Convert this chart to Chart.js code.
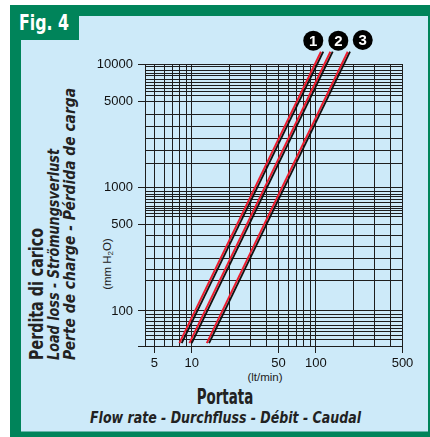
<!DOCTYPE html>
<html>
<head>
<meta charset="utf-8">
<script src="https://cdn.jsdelivr.net/npm/chart.js@4.4.1/dist/chart.umd.min.js"></script>
<style>
  html, body { margin: 0; padding: 0; background: #fff; }
  #wrap { position: relative; width: 430px; height: 437px; overflow: hidden; }
  #wrap svg, #wrap canvas { position: absolute; left: 0; top: 0; }
  .cond { font-family: "Liberation Sans Narrow", "DejaVu Sans Condensed", "Arial Narrow", "Liberation Sans", sans-serif; font-weight: bold; font-stretch: condensed; }
  .reg { font-family: "Liberation Sans", Arial, sans-serif; }
</style>
</head>
<body>
<div id="wrap">
  <svg width="430" height="437">
    <rect x="10" y="5" width="420" height="432" fill="#00845a"/>
    <rect x="21" y="16" width="407" height="415.5" fill="#cdeaf9"/>
    <rect x="10" y="5" width="69" height="35" fill="#00845a"/>
    <text class="cond" x="19" y="29.5" font-size="21" fill="#fff" textLength="50" lengthAdjust="spacingAndGlyphs">Fig. 4</text>

    <!-- y axis titles -->
    <text class="cond" transform="translate(43,360) rotate(-90)" font-size="20" fill="#222" textLength="132" lengthAdjust="spacingAndGlyphs">Perdita di carico</text>
    <text class="cond" transform="translate(58.5,360) rotate(-90)" font-size="16" font-style="italic" fill="#222" textLength="211" lengthAdjust="spacingAndGlyphs">Load loss - Strömungsverlust</text>
    <text class="cond" transform="translate(75,360) rotate(-90)" font-size="16" font-style="italic" fill="#222" textLength="272" lengthAdjust="spacingAndGlyphs">Perte de charge - Pérdida de carga</text>
    <text class="reg" transform="translate(110.5,264) rotate(-90)" font-size="11.5" fill="#222" text-anchor="middle">(mm H<tspan font-size="8" dy="2">2</tspan><tspan dy="-2">O)</tspan></text>

    <!-- x axis titles -->
    <text class="reg" x="265" y="380.5" font-size="11.5" fill="#222" text-anchor="middle">(lt/min)</text>
    <text class="cond" x="196.7" y="404" font-size="21" fill="#222" textLength="56.6" lengthAdjust="spacingAndGlyphs">Portata</text>
    <text class="cond" x="90" y="423" font-size="16" font-style="italic" fill="#222" textLength="271" lengthAdjust="spacingAndGlyphs">Flow rate - Durchfluss - Débit - Caudal</text>
  </svg>
  <canvas id="lossChart" width="430" height="437"></canvas>
</div>

<script>
// flow axis (lt/min)
const flowMin = 4.2;
const flowMax = 500;
const flowTicks = [5, 6, 7, 8, 9, 10, 20, 30, 40, 50, 60, 70, 80, 90, 100, 200, 300, 400, 500];
const flowLabels = [5, 10, 50, 100, 500];

// loss axis (mm H2O)
const lossMin = 52;
const lossMax = 10000;
const lossTicks = [52, 59, 63, 68, 72, 76, 82, 88, 93, 100, 175, 215, 265, 330, 410, 500,
  580, 615, 645, 675, 705, 750, 800, 840, 880, 925, 1000, 1550, 2000, 2500, 3100, 3900,
  5000, 5600, 6000, 6300, 6700, 7100, 7500, 8000, 8400, 8900, 9500, 10000];
const lossLabels = [100, 500, 1000, 5000, 10000];

// the three curves, read at the bottom and top ends
const curveNames = ["1", "2", "3"];
const curve1Flow = [8.3, 114.9];
const curve1Loss = [54.8, 12580];
const curve2Flow = [10.0, 136.9];
const curve2Loss = [54.8, 12580];
const curve3Flow = [13.8, 188.8];
const curve3Loss = [54.8, 12580];

const GRID = "#1e1e1e";
const RED = "#ee1c2e";
const tickFont = { family: "'Liberation Sans', Arial, sans-serif", size: 13 };

const curves = [
  { flow: curve1Flow, loss: curve1Loss },
  { flow: curve2Flow, loss: curve2Loss },
  { flow: curve3Flow, loss: curve3Loss }
];

const datasets = [];
curves.forEach((c, i) => {
  const pts = c.flow.map((f, k) => ({ x: f, y: c.loss[k] }));
  datasets.push({
    label: "Curve " + curveNames[i],
    data: pts,
    borderColor: "#111",
    borderWidth: 1.8,
    pointRadius: 0,
    clip: false
  });
  datasets.push({
    label: "Curve " + curveNames[i] + " red",
    data: pts,
    borderColor: RED,
    borderWidth: 2,
    pointRadius: 0,
    clip: false,
    shift: true
  });
});

// red line sits just beside the black one
const shiftPlugin = {
  id: "shift",
  beforeDatasetDraw(chart, args) {
    if (chart.data.datasets[args.index].shift) {
      chart.ctx.save();
      chart.ctx.translate(-2.3, 0);
    }
  },
  afterDatasetDraw(chart, args) {
    if (chart.data.datasets[args.index].shift) chart.ctx.restore();
  }
};

// numbered black discs at the top end of each curve
const markOffset = [[-10, -11], [5.6, -11], [12.7, -11.7]];
const markPlugin = {
  id: "marks",
  afterDraw(chart) {
    const ctx = chart.ctx;
    curveNames.forEach((name, i) => {
      const pts = chart.getDatasetMeta(i * 2).data;
      const end = pts[pts.length - 1];
      const cx = end.x + markOffset[i][0];
      const cy = end.y + markOffset[i][1];
      ctx.save();
      ctx.beginPath();
      ctx.arc(cx, cy, 10, 0, Math.PI * 2);
      ctx.fillStyle = "#000";
      ctx.fill();
      ctx.fillStyle = "#fff";
      ctx.font = "bold 15px 'Liberation Sans', Arial, sans-serif";
      ctx.textAlign = "center";
      ctx.textBaseline = "middle";
      ctx.fillText(name, cx, cy + 1);
      ctx.restore();
    });
  }
};

new Chart(document.getElementById("lossChart"), {
  type: "line",
  data: { datasets: datasets },
  plugins: [shiftPlugin, markPlugin],
  options: {
    responsive: false,
    animation: false,
    layout: { padding: { left: 95, top: 64, right: 27.5, bottom: 61 } },
    plugins: {
      legend: { display: false },
      tooltip: { enabled: false }
    },
    scales: {
      x: {
        type: "logarithmic",
        min: flowMin,
        max: flowMax,
        afterBuildTicks: (scale) => { scale.ticks = flowTicks.map(v => ({ value: v })); },
        afterFit: (scale) => { scale.height = 30; },
        ticks: {
          autoSkip: false,
          maxRotation: 0,
          padding: 3,
          color: "#111",
          font: tickFont,
          callback: (v) => flowLabels.includes(v) ? String(v) : ""
        },
        grid: {
          color: GRID,
          lineWidth: 1,
          tickLength: 7,
          tickColor: (c) => flowLabels.includes(c.tick.value) ? GRID : "rgba(0,0,0,0)"
        },
        border: { color: GRID, width: 1 }
      },
      y: {
        type: "logarithmic",
        min: lossMin,
        max: lossMax,
        afterBuildTicks: (scale) => { scale.ticks = lossTicks.map(v => ({ value: v })); },
        afterFit: (scale) => { scale.width = 50; },
        ticks: {
          autoSkip: false,
          padding: 5,
          color: "#111",
          font: tickFont,
          callback: (v) => lossLabels.includes(v) ? String(v) : ""
        },
        grid: {
          color: GRID,
          lineWidth: 1,
          tickLength: 7,
          tickColor: (c) => (lossLabels.includes(c.tick.value) || c.tick.value === lossMin) ? GRID : "rgba(0,0,0,0)"
        },
        border: { color: GRID, width: 1 }
      }
    }
  }
});
</script>
</body>
</html>
